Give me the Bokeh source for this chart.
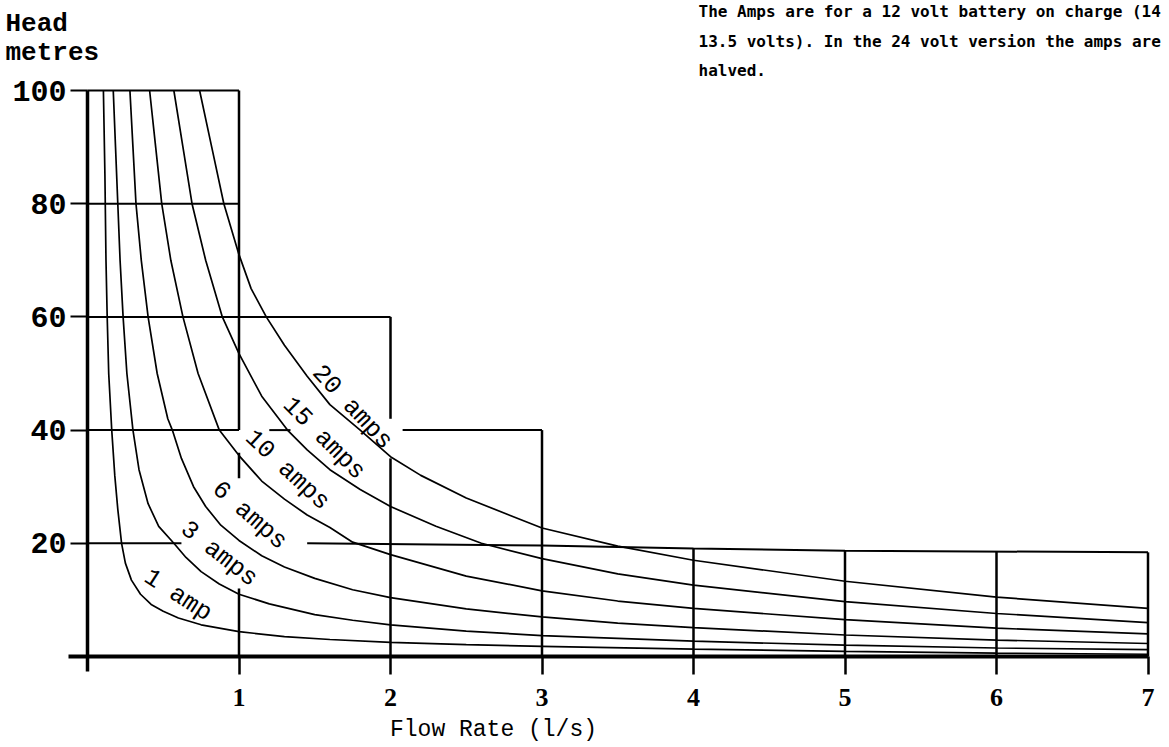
from bokeh.plotting import figure
from bokeh.models import LinearAxis, FixedTicker, Range1d
from bokeh.core.properties import value
from bokeh.embed import file_html
from bokeh.resources import INLINE
import math

# ---------------- data ----------------
amp_labels = ["1 amp", "3 amps", "6 amps", "10 amps", "15 amps", "20 amps"]

flow_1a = [0.105, 0.115, 0.122, 0.13, 0.14, 0.16, 0.18, 0.20, 0.225, 0.25, 0.29, 0.35, 0.42, 0.50,
           0.60, 0.75, 1.0, 1.3, 1.6, 2.0, 2.5, 3.0, 4.0, 5.0, 6.0, 7.0]
head_1a = [100, 85, 70, 60, 50, 40, 32, 26, 20, 16.5, 13.5, 11, 9.2, 8.0,
           6.8, 5.6, 4.4, 3.5, 3.0, 2.5, 2.1, 1.8, 1.3, 0.9, 0.6, 0.4]

flow_3a = [0.17, 0.185, 0.20, 0.215, 0.235, 0.26, 0.30, 0.34, 0.40, 0.47, 0.57, 0.65, 0.75, 0.87,
           1.0, 1.2, 1.5, 1.75, 2.0, 2.5, 3.0, 4.0, 5.0, 6.0, 7.0]
head_3a = [100, 90, 80, 70, 60, 50, 40, 33, 27, 23, 20, 17.5, 15, 12.8,
           11.0, 9.3, 7.4, 6.4, 5.6, 4.5, 3.7, 2.7, 2.0, 1.5, 1.2]

flow_6a = [0.28, 0.30, 0.32, 0.355, 0.40, 0.46, 0.53, 0.56, 0.62, 0.70, 0.78, 0.88, 1.0, 1.15,
           1.3, 1.5, 1.75, 2.0, 2.5, 3.0, 3.5, 4.0, 5.0, 6.0, 7.0]
head_6a = [100, 90, 80, 70, 60, 50, 42, 40, 35, 30, 26.5, 23.2, 20.5, 17.8,
           15.8, 13.8, 11.8, 10.4, 8.4, 7.0, 5.9, 5.1, 3.8, 2.9, 2.3]

flow_10a = [0.41, 0.45, 0.49, 0.55, 0.63, 0.73, 0.87, 1.0, 1.15, 1.3, 1.45, 1.6, 1.75, 2.0,
            2.5, 3.0, 3.5, 4.0, 5.0, 6.0, 7.0]
head_10a = [100, 90, 80, 70, 60, 50, 40, 35.5, 31, 27.8, 25, 22.8, 20.2, 18,
            14.2, 11.6, 9.8, 8.5, 6.5, 5.0, 4.0]

flow_15a = [0.57, 0.63, 0.69, 0.78, 0.89, 1.0, 1.15, 1.32, 1.45, 1.6, 1.8, 2.0, 2.3, 2.6,
            3.0, 3.5, 4.0, 5.0, 6.0, 7.0]
head_15a = [100, 90, 80, 70, 60, 53.5, 46, 40, 36.5, 33, 29.5, 26.5, 23, 20,
            17.3, 14.6, 12.6, 9.7, 7.6, 6.0]

flow_20a = [0.74, 0.82, 0.90, 1.0, 1.08, 1.18, 1.30, 1.45, 1.6, 1.8, 2.0, 2.2, 2.5, 3.0,
            3.5, 4.0, 5.0, 6.0, 7.0]
head_20a = [100, 90, 80, 71, 65, 60, 55, 49.5, 44.5, 40, 35.3, 32, 28, 22.7,
            19.5, 17, 13.3, 10.5, 8.5]

x_ticks = [1, 2, 3, 4, 5, 6, 7]
y_ticks = [20, 40, 60, 80, 100]

curves = [(flow_1a, head_1a), (flow_3a, head_3a), (flow_6a, head_6a),
          (flow_10a, head_10a), (flow_15a, head_15a), (flow_20a, head_20a)]

# ---------------- layout ----------------
W, H = 1169, 747
PX0, SX = 87.0, 151.5      # page px of flow 0, px per l/s
PY0, SY = 656.0, 5.66      # page px of head 0, px per metre

def dx(px):
    return (px - PX0) / SX

def dy(py):
    return (PY0 - py) / SY

p = figure(width=W, height=H,
           x_range=Range1d(dx(0), dx(W)),
           y_range=Range1d(dy(H), dy(0)),
           x_axis_type=None, y_axis_type=None,
           toolbar_location=None, output_backend="svg",
           min_border=0, title=None, outline_line_color=None,
           background_fill_color="white", border_fill_color="white")

# step-shaped grid boxes
h_x0 = [0, 0, 0, 0, 1.2, 2.08, 0]
h_x1 = [1, 1, 2, 1.0, 1.34, 3, 0.62]
h_y = [100, 80, 60, 40, 40, 40, 20]
p.segment(x0=h_x0, y0=h_y, x1=h_x1, y1=h_y, line_color="black", line_width=2)
p.line(x=[1.45, 3, 4, 5, 7], y=[20, 19.6, 19.1, 18.7, 18.4], line_color="black", line_width=2)

v_x = [1, 1, 1, 2, 2, 3, 4, 5, 6, 7]
v_y0 = [40, 31.5, 0, 42, 0, 0, 0, 0, 0, 0]
v_y1 = [100, 36, 12, 60, 35, 40, 19.1, 18.7, 18.5, 18.4]
p.segment(x0=v_x, y0=v_y0, x1=v_x, y1=v_y1, line_color="black", line_width=2.5)

# amp curves
for fx, hy in curves:
    p.line(x=fx, y=hy, line_color="black", line_width=1.7)

# curve labels
label_x = [0.596, 0.867, 1.069, 1.318, 1.56, 1.747]
label_y = [10.8, 18.1, 24.9, 32.9, 38.5, 44.0]
label_deg = [-33, -38, -41, -43, -45, -47]
p.text(x=label_x, y=label_y, text=amp_labels,
       angle=[math.radians(a) for a in label_deg],
       text_align="center", text_baseline="middle",
       text_font=value("Liberation Mono"), text_font_size="25px",
       text_color="black")

# axes
xaxis = LinearAxis(fixed_location=0, ticker=FixedTicker(ticks=x_ticks),
                   bounds=(-0.125, 7))
xaxis.axis_line_width = 4
xaxis.major_tick_out = 18
xaxis.major_tick_in = 0
xaxis.major_tick_line_width = 2.5
xaxis.minor_tick_out = 0
xaxis.minor_tick_in = 0
xaxis.major_label_standoff = 14
xaxis.major_label_text_font = "Liberation Serif"
xaxis.major_label_text_font_style = "bold"
xaxis.major_label_text_font_size = "26px"
xaxis.major_label_text_color = "black"
p.add_layout(xaxis, "below")

yaxis = LinearAxis(fixed_location=0, ticker=FixedTicker(ticks=y_ticks),
                   bounds=(-2.6, 100))
yaxis.axis_line_width = 3.5
yaxis.major_tick_out = 17
yaxis.major_tick_in = 0
yaxis.major_tick_line_width = 2
yaxis.minor_tick_out = 0
yaxis.minor_tick_in = 0
yaxis.major_label_standoff = 4
yaxis.major_label_orientation = "horizontal"
yaxis.major_label_text_font = "Liberation Mono"
yaxis.major_label_text_font_style = "bold"
yaxis.major_label_text_font_size = "30px"
yaxis.major_label_text_color = "black"
p.add_layout(yaxis, "left")

# axis titles
p.text(x=[dx(5), dx(5)], y=[dy(23), dy(52)], text=["Head", "metres"],
       text_align="left", text_baseline="middle",
       text_font=value("Liberation Mono"), text_font_style="bold",
       text_font_size="26px", text_color="black")
p.text(x=[dx(493)], y=[dy(729)], text=["Flow Rate (l/s)"],
       text_align="center", text_baseline="middle",
       text_font=value("Liberation Mono"), text_font_size="23px",
       text_color="black")

# note at the top right
note_lines = ["The Amps are for a 12 volt battery on charge (14",
              "13.5 volts). In the 24 volt version the amps are",
              "halved."]
p.text(x=[dx(698)] * 3, y=[dy(11), dy(41), dy(70)], text=note_lines,
       text_align="left", text_baseline="middle",
       text_font=value("DejaVu Sans Mono"), text_font_style="bold",
       text_font_size="16px", text_color="black")

open("out.html", "w").write(file_html(p, INLINE))
